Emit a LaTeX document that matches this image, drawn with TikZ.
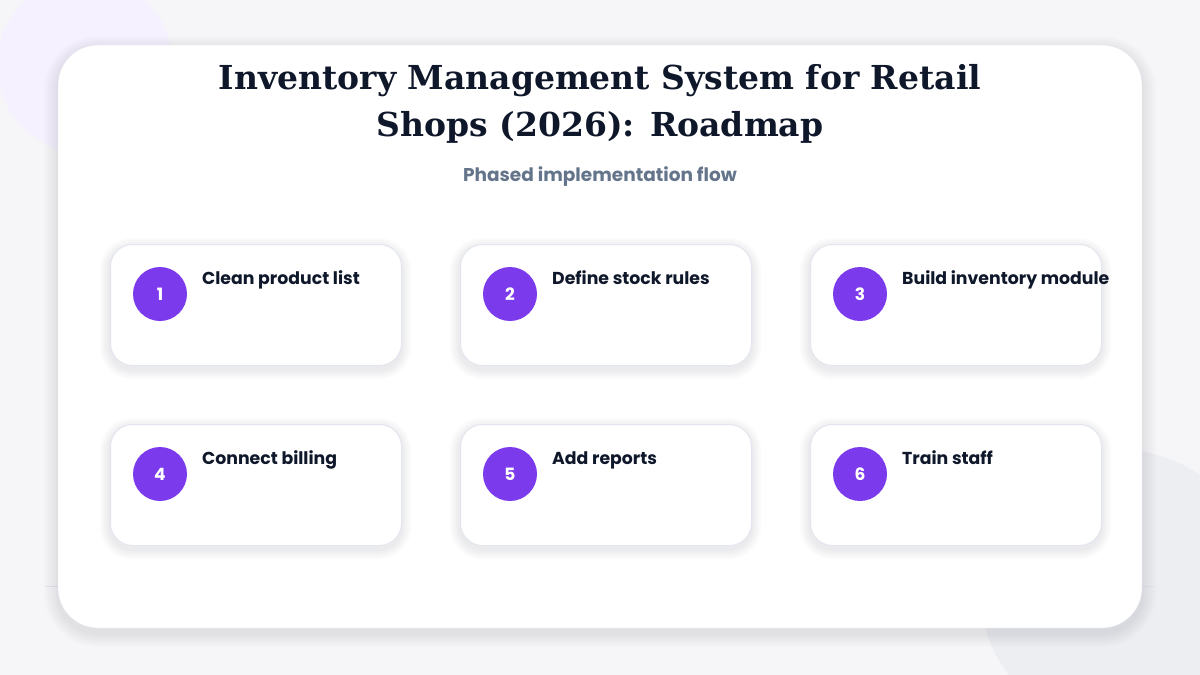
\documentclass[tikz,border=0pt]{standalone}
\usepackage{fontspec}
\setmainfont{Poppins}
\newfontfamily\titlefont{DejaVu Serif}
\definecolor{bg}{HTML}{F6F6F9}
\definecolor{navy}{HTML}{0F172A}
\definecolor{sub}{HTML}{64748B}
\definecolor{purp}{HTML}{7C3AED}
\definecolor{cardline}{HTML}{E2E6EE}
\definecolor{shad}{HTML}{1E293B}
\tikzset{
 card/.style={draw=cardline,line width=1pt,fill=white,rounded corners=22pt},
 num/.style={circle,fill=purp,minimum size=54pt,inner sep=0pt,text=white,font=\fontsize{17}{17}\selectfont\bfseries},
 lbl/.style={anchor=base west,text=navy,font=\fontsize{17.3}{18}\selectfont\bfseries,inner sep=0pt}
}
\begin{document}
\begin{tikzpicture}[x=1pt,y=-1pt]
\fill[bg] (0,0) rectangle (1200,675);
\useasboundingbox (0,0) rectangle (1200,675);
\fill[purp!7] (85,65) circle (88);
\fill[sub!12] (1120,590) circle (140);
\draw[cardline,line width=1pt] (45,586) -- (1155,586);
\foreach \s in {2,4,...,14}{
 \fill[shad,opacity=0.012,rounded corners=40pt+\s pt] (58-\s,45-\s+5) rectangle (1142+\s,628+\s+5);
}
\node[draw=cardline,fill=white,rounded corners=40pt,minimum width=1084pt,minimum height=583pt] (main) at (600,336.5) {};
\node[text=navy,font=\titlefont\fontsize{33}{47}\selectfont\bfseries,align=center] (title) at (600,104) {Inventory Management System for Retail\\Shops (2026): Roadmap};
\node[text=sub,font=\fontsize{18.5}{20}\selectfont\bfseries] (subt) at (600,177) {Phased implementation flow};
\foreach \i/\x/\y/\t in {1/110/244/Clean product list,2/460/244/Define stock rules,3/810/244/Build inventory module,4/110/424/Connect billing,5/460/424/Add reports,6/810/424/Train staff}{
 \foreach \s in {2,4,...,10}{
  \fill[shad,opacity=0.014,rounded corners=22pt+\s pt] (\x-\s,\y-\s+4) rectangle (\x+291+\s,\y+121+\s+4);
 }
 \node[card,minimum width=291pt,minimum height=121pt,anchor=north west] (c\i) at (\x,\y) {};
 \node[num] (n\i) at (\x+50,\y+50) {\i};
 \node[lbl] (l\i) at (\x+92,\y+40) {\t};
}
\end{tikzpicture}
\end{document}
